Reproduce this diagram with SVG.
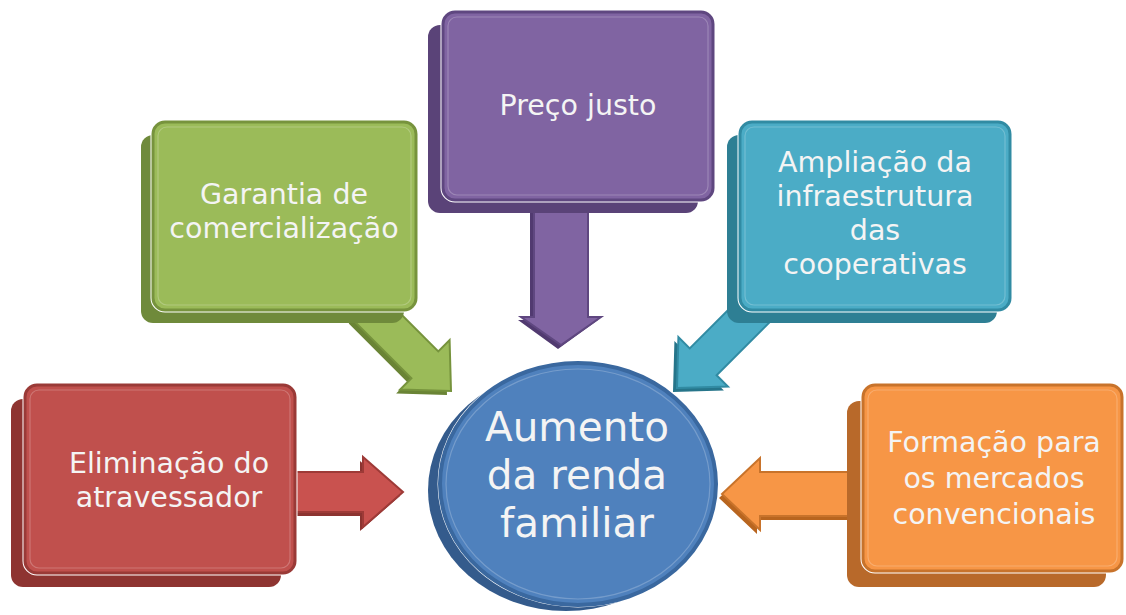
<svg xmlns="http://www.w3.org/2000/svg" width="1126" height="615" viewBox="0 0 1126 615">
<defs>
<style>
.t{font-family:"DejaVu Sans","Liberation Sans",sans-serif;fill:#F4F4F4;text-anchor:middle}
.tb{font-size:28.5px}
.tc{font-size:40.5px}
.gap{fill:none;stroke:#FFFFFF;stroke-width:5}
.hl{fill:none;stroke:#FFFFFF;stroke-opacity:0.22;stroke-width:1.2}
</style>
</defs>
<rect width="1126" height="615" fill="#FFFFFF"/>

<g id="connectors">
  <g id="arrow-red">
    <path d="M290,476 L360,476 L360,461 L400,496 L360,531 L360,516 L290,516 Z" fill="#8C3330"/>
    <path d="M290,472 L363,472 L363,457 L403,492 L363,527 L363,512 L290,512 Z" fill="#C9524F" stroke="#9E3A37" stroke-width="2"/>
  </g>
  <g id="arrow-orange">
    <path d="M850,476 L757,476 L757,462 L719,498 L757,534 L757,520 L850,520 Z" fill="#B8651F"/>
    <path d="M852,472 L760,472 L760,458 L722,494 L760,530 L760,516 L852,516 Z" fill="#F79646" stroke="#C8732B" stroke-width="2"/>
  </g>
  <g id="arrow-purple">
    <path d="M530,205 L584,205 L584,320 L598,320 L558,349 L518,320 L530,320 Z" fill="#513A70"/>
    <path d="M534,205 L588,205 L588,317 L601,317 L561,345 L521,317 L534,317 Z" fill="#8064A2" stroke="#5F4780" stroke-width="2"/>
  </g>
  <g id="arrow-green">
    <path transform="translate(447,395) rotate(45)" d="M0,0 L-37,-35 L-37,-19 L-120,-19 L-120,19 L-37,19 L-37,35 Z" fill="#6A8435"/>
    <path transform="translate(451,391) rotate(45)" d="M0,0 L-37,-35 L-37,-19 L-120,-19 L-120,19 L-37,19 L-37,35 Z" fill="#9BBB59" stroke="#76933C" stroke-width="2"/>
  </g>
  <g id="arrow-teal">
    <path transform="translate(673,392) rotate(135)" d="M0,0 L-37,-35 L-37,-19 L-120,-19 L-120,19 L-37,19 L-37,35 Z" fill="#26758A"/>
    <path transform="translate(677,388) rotate(135)" d="M0,0 L-37,-35 L-37,-19 L-120,-19 L-120,19 L-37,19 L-37,35 Z" fill="#4BACC6" stroke="#318BA3" stroke-width="2"/>
  </g>
</g>

<g id="node-red">
  <rect x="11" y="399" width="270" height="188" rx="12" fill="#8E3431"/>
  <rect x="25" y="385" width="270" height="188" rx="12" class="gap"/>
  <rect x="25" y="385" width="270" height="188" rx="12" fill="#C0504D" stroke="#9A3A37" stroke-width="3"/>
  <rect x="30" y="390" width="260" height="178" rx="9" class="hl"/>
  <text class="t tb"><tspan x="169" y="473">Eliminação do</tspan><tspan x="169" y="507">atravessador</tspan></text>
</g>

<g id="node-green">
  <rect x="141" y="135" width="263" height="188" rx="12" fill="#6F8A3B"/>
  <rect x="153" y="122" width="263" height="188" rx="12" class="gap"/>
  <rect x="153" y="122" width="263" height="188" rx="12" fill="#9BBB59" stroke="#77933D" stroke-width="3"/>
  <rect x="158" y="127" width="253" height="178" rx="9" class="hl"/>
  <text class="t tb"><tspan x="284" y="204">Garantia de</tspan><tspan x="284" y="238">comercialização</tspan></text>
</g>

<g id="node-purple">
  <rect x="428" y="25" width="270" height="188" rx="12" fill="#5A4378"/>
  <rect x="443" y="12" width="270" height="188" rx="12" class="gap"/>
  <rect x="443" y="12" width="270" height="188" rx="12" fill="#8064A2" stroke="#5F4780" stroke-width="3"/>
  <rect x="448" y="17" width="260" height="178" rx="9" class="hl"/>
  <text class="t tb"><tspan x="578" y="115">Preço justo</tspan></text>
</g>

<g id="node-teal">
  <rect x="727" y="135" width="270" height="188" rx="12" fill="#2E7F94"/>
  <rect x="740" y="122" width="270" height="188" rx="12" class="gap"/>
  <rect x="740" y="122" width="270" height="188" rx="12" fill="#4BACC6" stroke="#318BA3" stroke-width="3"/>
  <rect x="745" y="127" width="260" height="178" rx="9" class="hl"/>
  <text class="t tb"><tspan x="875" y="172">Ampliação da</tspan><tspan x="875" y="206">infraestrutura</tspan><tspan x="875" y="240">das</tspan><tspan x="875" y="274">cooperativas</tspan></text>
</g>

<g id="node-orange">
  <rect x="847" y="401" width="259" height="186" rx="12" fill="#B8692A"/>
  <rect x="863" y="385" width="259" height="186" rx="12" class="gap"/>
  <rect x="863" y="385" width="259" height="186" rx="12" fill="#F79646" stroke="#C8732B" stroke-width="3"/>
  <rect x="868" y="390" width="249" height="176" rx="9" class="hl"/>
  <text class="t tb"><tspan x="994" y="452">Formação para</tspan><tspan x="994" y="488">os mercados</tspan><tspan x="994" y="524">convencionais</tspan></text>
</g>

<g id="node-center">
  <ellipse cx="566" cy="490" rx="138" ry="121" fill="#345B8C"/>
  <ellipse cx="578" cy="484" rx="138" ry="121" class="gap"/>
  <ellipse cx="578" cy="484" rx="138" ry="121" fill="#4F81BD" stroke="#3A689F" stroke-width="4"/>
  <ellipse cx="578" cy="484" rx="132" ry="115" class="hl"/>
  <text class="t tc"><tspan x="577" y="441">Aumento</tspan><tspan x="577" y="489">da renda</tspan><tspan x="577" y="537">familiar</tspan></text>
</g>
</svg>
